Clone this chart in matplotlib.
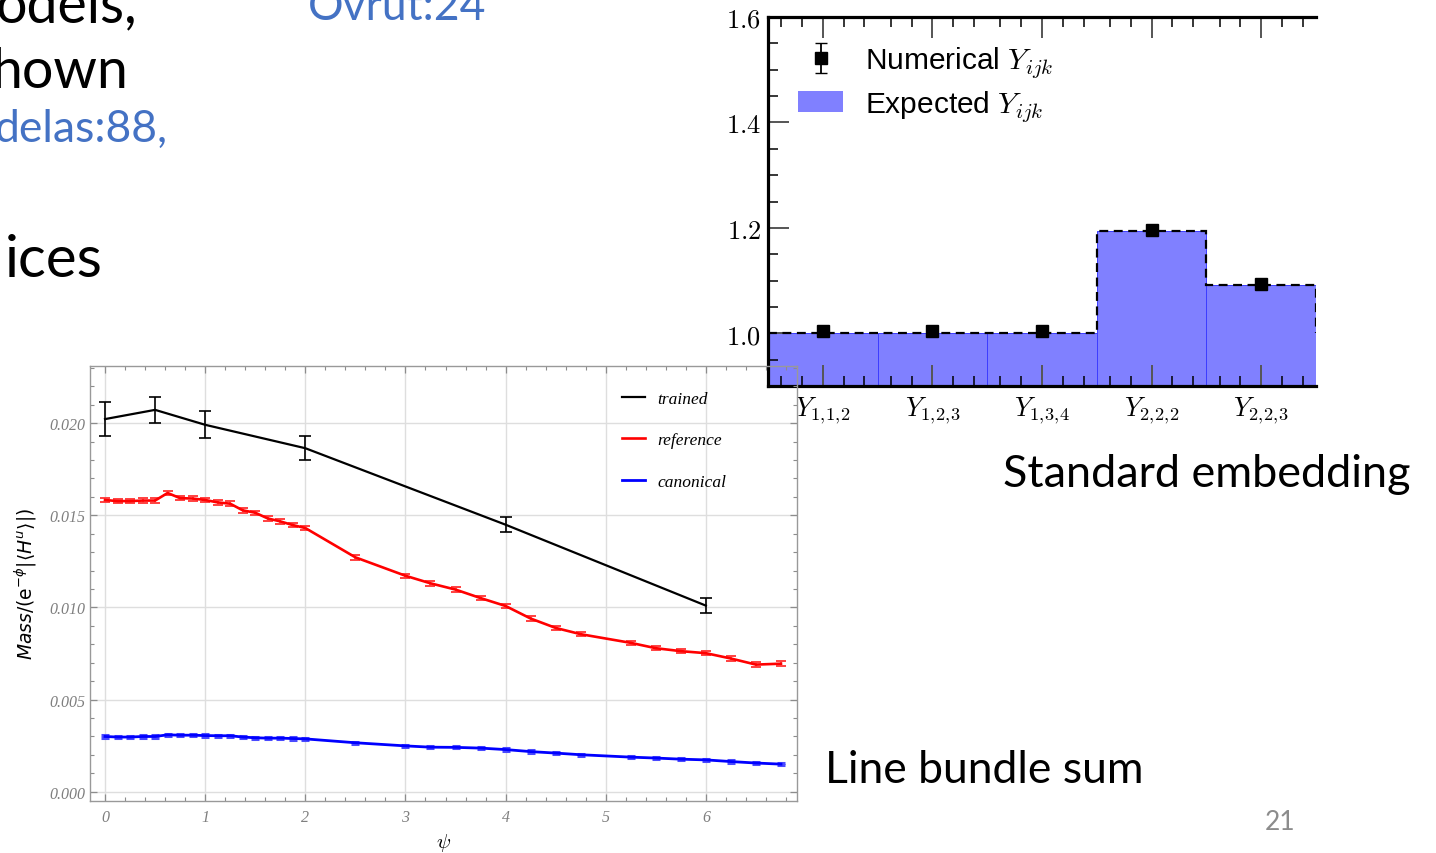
import numpy as np
import matplotlib.pyplot as plt
from matplotlib.patches import Patch
from matplotlib.lines import Line2D
from matplotlib.ticker import MultipleLocator, FixedLocator

plt.rcParams['mathtext.fontset'] = 'cm'

######################################
# data

# left plot: Mass vs psi
trained_x = [0, 0.5, 1, 2, 4, 6]
trained_y = [0.02022, 0.02072, 0.01991, 0.01864, 0.01449, 0.01010]
trained_err = [0.00092, 0.00070, 0.00074, 0.00066, 0.00040, 0.00040]

ref_x = [0, 0.125, 0.25, 0.375, 0.5, 0.625, 0.75, 0.875, 1.0, 1.125, 1.25, 1.375,
         1.5, 1.625, 1.75, 1.875, 2.0, 2.5, 3.0, 3.25, 3.5, 3.75, 4.0, 4.25, 4.5,
         4.75, 5.25, 5.5, 5.75, 6.0, 6.25, 6.5, 6.75]
ref_y = [0.01583, 0.01577, 0.01577, 0.01580, 0.01580, 0.01621, 0.01593, 0.01591,
         0.01583, 0.01570, 0.01563, 0.01527, 0.01514, 0.01483, 0.01467, 0.01447,
         0.01431, 0.01272, 0.01172, 0.01131, 0.01097, 0.01051, 0.01008, 0.00940,
         0.00889, 0.00855, 0.00808, 0.00779, 0.00763, 0.00752, 0.00723, 0.00690,
         0.00695]
ref_err = 0.00012

can_x = ref_x
can_y = [0.00300, 0.00297, 0.00297, 0.00300, 0.00300, 0.00309, 0.00307, 0.00307,
         0.00305, 0.00304, 0.00304, 0.00297, 0.00293, 0.00291, 0.00291, 0.00289,
         0.00287, 0.00266, 0.00249, 0.00242, 0.00241, 0.00237, 0.00229, 0.00218,
         0.00210, 0.00201, 0.00188, 0.00183, 0.00177, 0.00173, 0.00164, 0.00156,
         0.00150]
can_err = 0.00006

# right plot: Yukawa couplings
cats = [r'$Y_{1,\!1,\!2}$', r'$Y_{1,\!2,\!3}$', r'$Y_{1,\!3,\!4}$', r'$Y_{2,\!2,\!2}$', r'$Y_{2,\!2,\!3}$']
expected = [1.0, 1.0, 1.0, 1.194, 1.092]
numerical = [1.004, 1.004, 1.004, 1.196, 1.094]
num_err = [0.002, 0.002, 0.002, 0.002, 0.002]

######################################

W, H = 1436, 854
fig = plt.figure(figsize=(W / 100, H / 100), dpi=100)

def px(x0, y0, x1, y1):
    # pixel box -> figure fraction rect
    return [x0 / W, 1 - y1 / H, (x1 - x0) / W, (y1 - y0) / H]

def slide_text(x, y, s, size, color='black', ha='left'):
    fig.text(x / W, 1 - y / H, s, fontsize=size, color=color, ha=ha, va='baseline',
             family='Lato')

######################################
# right plot (drawn first, the left one sits on top of it)

axR = fig.add_axes(px(768, 18, 1316, 387))
xc = np.arange(len(cats)) + 0.5
axR.bar(xc, expected, width=1.0, color='#8080ff', edgecolor='#3c3cff', linewidth=0.7, zorder=1)
axR.stairs(expected, np.arange(len(cats) + 1), baseline=1.0, color='black',
           linestyle=(0, (4, 2.5)), linewidth=1.6, zorder=2)
num = axR.errorbar(xc, numerical, yerr=num_err, fmt='s', color='black', ms=8,
                   capsize=4, elinewidth=1.3, zorder=3)
axR.set_xlim(0, len(cats))
axR.set_ylim(0.9, 1.6)
axR.set_xticks(xc)
axR.set_xticklabels(cats, fontsize=19)
axR.xaxis.set_minor_locator(FixedLocator([c + d for c in xc for d in (-0.38, -0.19, 0.19, 0.38)]))
axR.set_yticks([1.0, 1.2, 1.4, 1.6])
axR.set_yticklabels([r'$1.0$', r'$1.2$', r'$1.4$', r'$1.6$'], fontsize=19)
axR.yaxis.set_minor_locator(MultipleLocator(0.05))
axR.tick_params(which='both', direction='in', top=True, bottom=True, left=True, right=False)
axR.tick_params(which='major', length=15, width=1.4, color='#555555')
axR.tick_params(which='minor', length=7, width=1.1, color='black')
axR.tick_params(axis='x', which='major', pad=6)
axR.tick_params(axis='y', which='major', pad=5)
axR.spines['right'].set_visible(False)
for s in ['left', 'bottom', 'top']:
    axR.spines[s].set_linewidth(2.3)

axR.legend([num, Patch(facecolor='#8080ff')],
           [r'Numerical $Y_{ijk}$', r'Expected $Y_{ijk}$'],
           loc='upper left', bbox_to_anchor=(0.006, 0.999), frameon=False,
           prop={'family': 'Liberation Sans', 'size': 21.5},
           handlelength=1.5, handletextpad=0.75, labelspacing=0.3)

######################################
# left plot

axL = fig.add_axes(px(90, 367, 797, 802))
axL.set_facecolor('none')
axL.errorbar(trained_x, trained_y, yerr=trained_err, color='black', lw=1.6,
             capsize=4, elinewidth=1.2, capthick=1.2)
axL.errorbar(ref_x, ref_y, yerr=ref_err, color='#ff0000', lw=1.9,
             ecolor='#ff4040', capsize=3.5, elinewidth=1.2, capthick=1.4)
axL.errorbar(can_x, can_y, yerr=can_err, color='#0000ff', lw=2.0,
             ecolor='#4a4aff', capsize=3, elinewidth=1.5, capthick=2.2)

axL.set_xlim(-0.15, 6.91)
axL.set_ylim(-0.0005, 0.0231)
axL.set_xticks(range(7))
axL.set_xticklabels([str(i) for i in range(7)])
axL.xaxis.set_minor_locator(MultipleLocator(0.2))
axL.set_yticks([0, 0.005, 0.01, 0.015, 0.02])
axL.set_yticklabels(['0.000', '0.005', '0.010', '0.015', '0.020'])
axL.yaxis.set_minor_locator(MultipleLocator(0.001))
axL.tick_params(which='both', direction='in', top=True, right=True, color='#8c8c8c',
                labelcolor='#7f7f7f')
axL.tick_params(which='major', length=5, width=0.9)
axL.tick_params(which='minor', length=3, width=0.8)
axL.tick_params(axis='x', pad=6)
axL.tick_params(axis='y', pad=3)
for lab in axL.get_xticklabels() + axL.get_yticklabels():
    lab.set_family('Liberation Serif')
    lab.set_style('italic')
    lab.set_fontsize(11.5)
for s in axL.spines.values():
    s.set_color('#999999')
    s.set_linewidth(1.0)
axL.grid(True, which='major', color='#dedede', lw=1.0)
axL.set_axisbelow(True)

axL.set_xlabel(r'$\psi$', fontsize=15, labelpad=4)
axL.set_ylabel(r'$\mathit{Mass}/(\mathrm{e}^{-\phi}|\langle H^u\rangle|)$', fontsize=13.5,
               labelpad=8, math_fontfamily='dejavusans')

leg_handles = [Line2D([], [], color='black', lw=1.6),
               Line2D([], [], color='#ff0000', lw=1.9),
               Line2D([], [], color='#0000ff', lw=2.0)]
axL.legend(leg_handles, ['trained', 'reference', 'canonical'],
           loc='upper left', bbox_to_anchor=((608 - 90) / 707, (802 - 378) / 435),
           frameon=False, prop={'family': 'Liberation Serif', 'style': 'italic', 'size': 12.5},
           handlelength=1.35, handletextpad=0.7, labelspacing=1.45, borderpad=0.3)

######################################
# slide text around the plots (cut at the slide edge as in the original)

blue = '#4472c4'
slide_text(137, 22, 'odels,', 40, ha='right')
slide_text(128, 88, 'hown', 40, ha='right')
slide_text(167, 142, 'delas:88,', 32, color=blue, ha='right')
slide_text(103, 277, 'ices', 42, ha='right')
slide_text(308, 20, 'Ovrut:24', 32, color=blue)
slide_text(1003, 487, 'Standard embedding', 32.4)
slide_text(825, 783, 'Line bundle sum', 32)
slide_text(1265, 830, '21', 19, color='#8c8c8c')

fig.savefig('out.png', dpi=100)
